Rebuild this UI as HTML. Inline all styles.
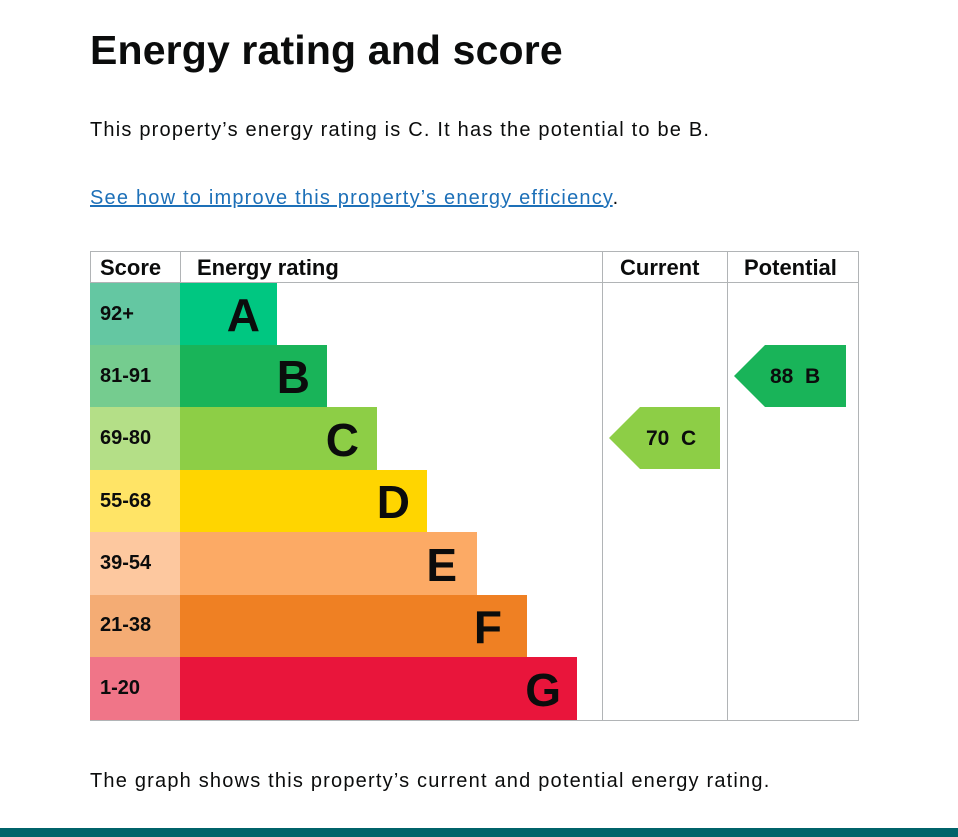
<!DOCTYPE html>
<html><head><style>
body{margin:0;width:958px;height:837px;background:#fff;position:relative;overflow:hidden;font-family:"Liberation Sans",Arial,sans-serif;color:#0b0c0c}
h1{position:absolute;left:90px;top:27px;margin:0;font-size:41px;font-weight:bold;letter-spacing:0.15px}
p{position:absolute;left:90px;margin:0;font-size:20px;letter-spacing:1.2px}
a{color:#1d70b8;text-decoration:underline}
.foot{position:absolute;left:0;top:828px;width:958px;height:9px;background:#00636a}
</style></head><body>
<h1>Energy rating and score</h1>
<p style="top:119px">This property’s energy rating is C. It has the potential to be B.</p>
<p style="top:187px"><a>See how to improve this property’s energy efficiency</a>.</p>
<svg style="position:absolute;left:0;top:0" width="958" height="837" font-family="Liberation Sans, Arial, sans-serif" font-weight="bold">
<g fill="none" stroke="#b1b4b6" stroke-width="1">
<rect x="90.5" y="251.5" width="768" height="469"/>
<line x1="90" y1="282.5" x2="858" y2="282.5"/>
<line x1="180.5" y1="251" x2="180.5" y2="283"/>
<line x1="602.5" y1="251" x2="602.5" y2="720"/>
<line x1="727.5" y1="251" x2="727.5" y2="720"/>
</g>
<g font-size="22" fill="#0b0c0c">
<text x="100" y="275">Score</text>
<text x="197" y="275">Energy rating</text>
<text x="620" y="275">Current</text>
<text x="744" y="275">Potential</text>
</g>
<rect x="90" y="283" width="90" height="62" fill="#64c7a2"/><rect x="180" y="283" width="97" height="62" fill="#00c781"/>
<rect x="90" y="345" width="90" height="62" fill="#75cc8f"/><rect x="180" y="345" width="147" height="62" fill="#19b459"/>
<rect x="90" y="407" width="90" height="63" fill="#b4df87"/><rect x="180" y="407" width="197" height="63" fill="#8dce46"/>
<rect x="90" y="470" width="90" height="62" fill="#ffe466"/><rect x="180" y="470" width="247" height="62" fill="#ffd500"/>
<rect x="90" y="532" width="90" height="63" fill="#fdc89f"/><rect x="180" y="532" width="297" height="63" fill="#fcaa65"/>
<rect x="90" y="595" width="90" height="62" fill="#f4ac74"/><rect x="180" y="595" width="347" height="62" fill="#ef8023"/>
<rect x="90" y="657" width="90" height="63" fill="#f07588"/><rect x="180" y="657" width="397" height="63" fill="#e9153b"/>
<g font-size="20" fill="#0b0c0c">
<text x="100" y="320">92+</text><text x="100" y="382">81-91</text><text x="100" y="444">69-80</text>
<text x="100" y="507">55-68</text><text x="100" y="569">39-54</text><text x="100" y="631">21-38</text><text x="100" y="694">1-20</text>
</g>
<g font-size="46" fill="#0b0c0c" text-anchor="end">
<text x="260" y="331">A</text><text x="310" y="393">B</text><text x="359" y="456">C</text>
<text x="410" y="518">D</text><text x="457" y="581">E</text><text x="502" y="643">F</text><text x="561" y="706">G</text>
</g>
<polygon points="609,438 640,407 720,407 720,469 640,469" fill="#8dce46"/>
<polygon points="734,376 765,345 846,345 846,407 765,407" fill="#19b459"/>
<g font-size="21" fill="#0b0c0c">
<text x="646" y="445">70&#160; C</text>
<text x="770" y="383">88&#160; B</text>
</g>
</svg>
<p style="top:770px">The graph shows this property’s current and potential energy rating.</p>
<div class="foot"></div>
</body></html>
